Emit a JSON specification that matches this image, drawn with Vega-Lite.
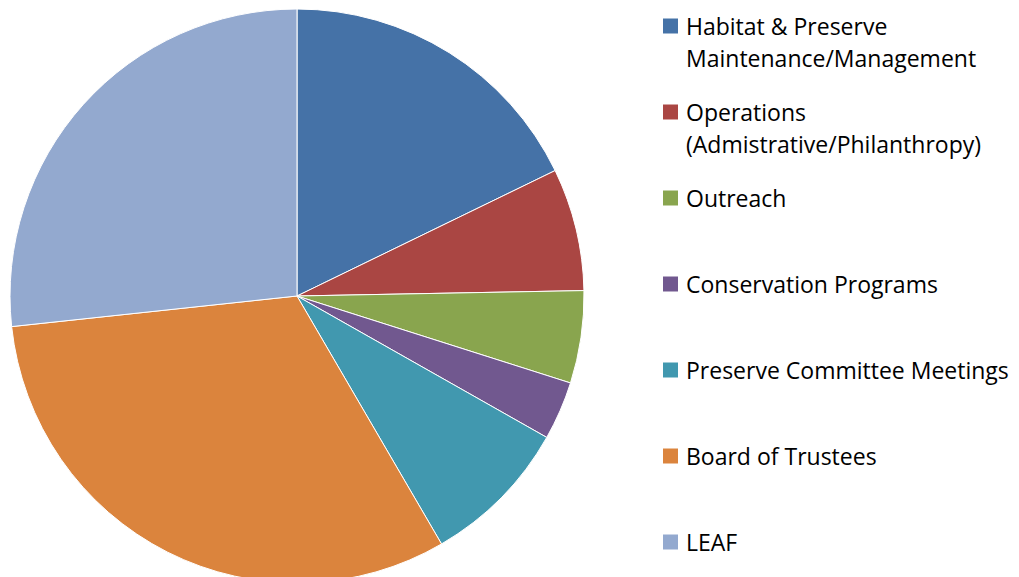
{
  "$schema": "https://vega.github.io/schema/vega-lite/v6.json",
  "width": 594,
  "height": 592,
  "autosize": {"type": "none"},
  "padding": {"left": 0, "top": 0, "right": 425, "bottom": 0},
  "background": "white",
  "config": {"view": {"stroke": null}, "font": "Open Sans"},
  "data": {
    "values": [
      {"category": "Habitat & Preserve Maintenance/Management", "value": 17.8, "order": 1},
      {"category": "Operations (Admistrative/Philanthropy)", "value": 6.9, "order": 2},
      {"category": "Outreach", "value": 5.2, "order": 3},
      {"category": "Conservation Programs", "value": 3.3, "order": 4},
      {"category": "Preserve Committee Meetings", "value": 8.4, "order": 5},
      {"category": "Board of Trustees", "value": 31.7, "order": 6},
      {"category": "LEAF", "value": 26.7, "order": 7}
    ]
  },
  "mark": {"type": "arc", "outerRadius": 287, "stroke": "white", "strokeWidth": 1},
  "encoding": {
    "theta": {"field": "value", "type": "quantitative", "stack": true},
    "order": {"field": "order", "type": "quantitative"},
    "color": {
      "field": "category",
      "type": "nominal",
      "scale": {
        "domain": [
          "Habitat & Preserve Maintenance/Management",
          "Operations (Admistrative/Philanthropy)",
          "Outreach",
          "Conservation Programs",
          "Preserve Committee Meetings",
          "Board of Trustees",
          "LEAF"
        ],
        "range": ["#4572A7", "#AA4643", "#89A54E", "#71588F", "#4198AF", "#DB843D", "#93A9CF"]
      },
      "legend": {
        "title": null,
        "orient": "none",
        "legendX": 659,
        "legendY": 14.5,
        "padding": 0,
        "symbolType": "square",
        "symbolSize": 225,
        "symbolStrokeWidth": 0,
        "labelFont": "Open Sans",
        "labelFontSize": 23,
        "labelColor": "black",
        "labelOffset": 4,
        "labelLimit": 400,
        "labelBaseline": "top",
        "rowPadding": 28,
        "labelExpr": "datum.label == 'Habitat & Preserve Maintenance/Management' ? ['Habitat & Preserve', 'Maintenance/Management'] : datum.label == 'Operations (Admistrative/Philanthropy)' ? ['Operations', '(Admistrative/Philanthropy)'] : [datum.label, '']",
        "encoding": {"labels": {"dy": {"value": -9}, "lineHeight": {"value": 32}}}
      }
    }
  }
}
